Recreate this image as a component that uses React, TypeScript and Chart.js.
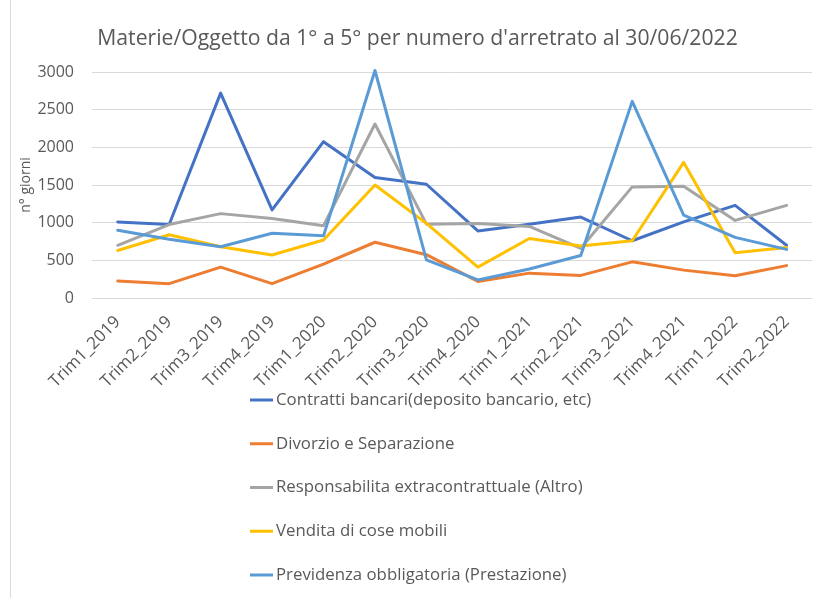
import React, { useEffect, useRef } from 'react';
import { Chart, registerables } from 'chart.js';

Chart.register(...registerables);

const TITLE = "Materie/Oggetto da 1° a 5° per numero d'arretrato al 30/06/2022";
const Y_TITLE = 'n° giorni';

const categories = [
  'Trim1_2019', 'Trim2_2019', 'Trim3_2019', 'Trim4_2019',
  'Trim1_2020', 'Trim2_2020', 'Trim3_2020', 'Trim4_2020',
  'Trim1_2021', 'Trim2_2021', 'Trim3_2021', 'Trim4_2021',
  'Trim1_2022', 'Trim2_2022',
];

const seriesNames = [
  'Contratti bancari(deposito bancario, etc)',
  'Divorzio e Separazione',
  'Responsabilita extracontrattuale (Altro)',
  'Vendita di cose mobili',
  'Previdenza obbligatoria (Prestazione)',
];

const contratti = [1010, 975, 2720, 1170, 2075, 1600, 1510, 890, 980, 1075, 760, 1010, 1230, 700];
const divorzio = [225, 190, 410, 190, 450, 740, 575, 220, 330, 300, 480, 370, 295, 430];
const responsabilita = [700, 975, 1120, 1055, 960, 2310, 980, 990, 950, 660, 1475, 1485, 1030, 1230];
const vendita = [630, 840, 680, 570, 770, 1500, 990, 410, 790, 690, 760, 1800, 600, 670];
const previdenza = [900, 780, 680, 860, 825, 3020, 505, 240, 385, 565, 2610, 1100, 805, 645];

const seriesColors = ['#4472C4', '#ED7D31', '#A5A5A5', '#FFC000', '#5B9BD5'];

const FONT = '"Open Sans", "Noto Sans", sans-serif';
const TEXT = '#595959';

const overlayPlugin = {
  id: 'overlay',
  beforeDraw(chart: any) {
    const ctx = chart.ctx;
    ctx.save();
    ctx.fillStyle = '#ffffff';
    ctx.fillRect(0, 0, chart.width, chart.height);
    ctx.restore();
  },
  afterDraw(chart: any) {
    const ctx = chart.ctx;
    ctx.save();
    ctx.strokeStyle = '#D9D9D9';
    ctx.lineWidth = 1;
    ctx.beginPath();
    ctx.moveTo(10.5, 0);
    ctx.lineTo(10.5, chart.height);
    ctx.stroke();

    ctx.fillStyle = TEXT;
    ctx.font = '21.2px ' + FONT;
    ctx.textAlign = 'center';
    ctx.textBaseline = 'middle';
    ctx.fillText(TITLE, 417.5, 39);

    ctx.font = '16.8px ' + FONT;
    ctx.textAlign = 'left';
    chart.data.datasets.forEach((ds: any, i: number) => {
      const y = 400 + i * 43.75;
      ctx.strokeStyle = ds.borderColor;
      ctx.lineWidth = 3;
      ctx.beginPath();
      ctx.moveTo(250, y);
      ctx.lineTo(273, y);
      ctx.stroke();
      ctx.fillStyle = TEXT;
      ctx.fillText(ds.label, 276, y);
    });
    ctx.restore();
  },
};

export default function App() {
  const ref = useRef<HTMLCanvasElement>(null);

  useEffect(() => {
    document.body.style.margin = '0';
    const values = [contratti, divorzio, responsabilita, vendita, previdenza];
    const chart = new Chart(ref.current as HTMLCanvasElement, {
      type: 'line',
      data: {
        labels: categories,
        datasets: values.map((v, i) => ({
          label: seriesNames[i],
          data: v,
          borderColor: seriesColors[i],
          backgroundColor: seriesColors[i],
          borderWidth: 3,
          pointRadius: 0,
          pointHoverRadius: 0,
          tension: 0,
          fill: false,
          clip: 6,
          order: 5 - i,
          borderJoinStyle: 'round' as const,
          borderCapStyle: 'round' as const,
        })),
      },
      options: {
        responsive: false,
        animation: false,
        devicePixelRatio: 1,
        layout: { padding: { top: 72, left: 0, right: 0, bottom: 200 } },
        plugins: {
          legend: { display: false },
          title: { display: false },
          tooltip: { enabled: false },
        },
        scales: {
          x: {
            offset: true,
            grid: { display: false, drawTicks: false },
            border: { display: false },
            ticks: {
              autoSkip: false,
              minRotation: 45,
              maxRotation: 45,
              color: TEXT,
              font: { family: FONT, size: 17 },
              padding: 14,
            },
            afterFit: (s: any) => { s.height = 100; },
          },
          y: {
            min: 0,
            max: 3000,
            grid: { color: '#D9D9D9', lineWidth: 1, drawTicks: false },
            border: { display: false },
            ticks: {
              stepSize: 500,
              color: TEXT,
              font: { family: FONT, size: 16 },
              padding: 18,
              callback: (v: any) => String(v),
            },
            title: {
              display: true,
              text: Y_TITLE,
              color: TEXT,
              font: { family: FONT, size: 14 },
              padding: { top: 18, bottom: 0 },
            },
            afterFit: (s: any) => { s.width = 92; },
          },
        },
      },
      plugins: [overlayPlugin],
    });
    return () => chart.destroy();
  }, []);

  return <canvas ref={ref} width={815} height={598} style={{ display: 'block' }} />;
}
